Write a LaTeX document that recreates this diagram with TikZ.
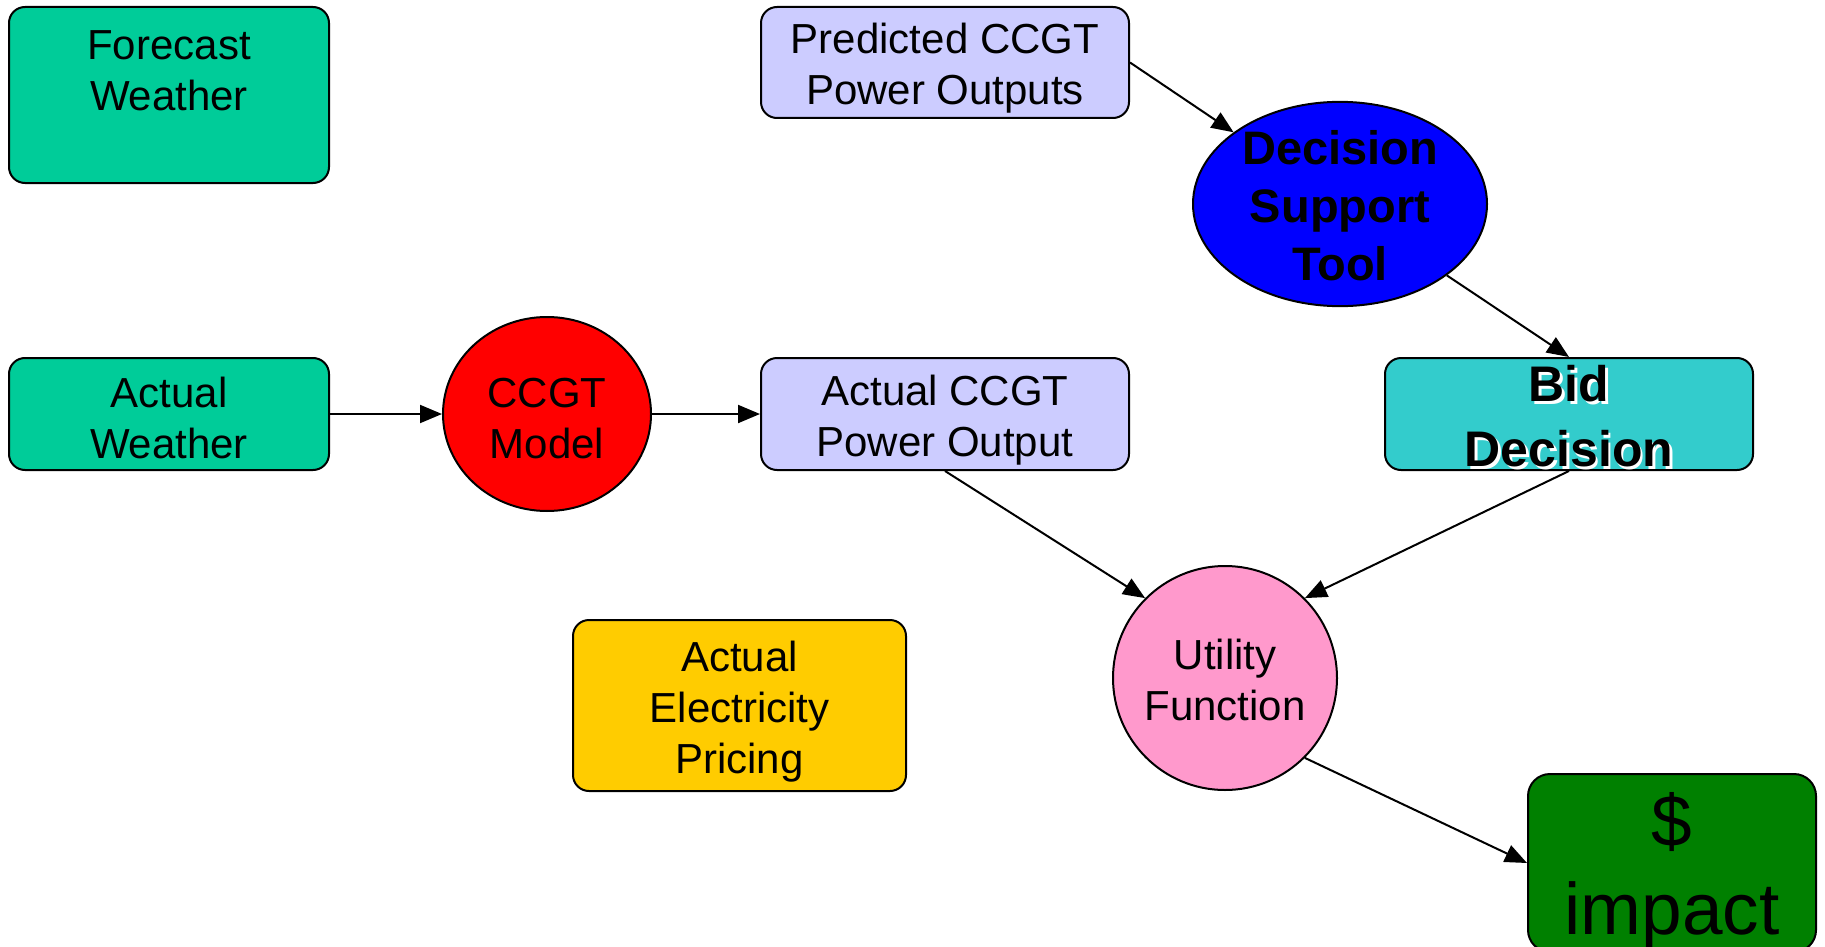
\documentclass[tikz,border=0pt]{standalone}
\usepackage{fontspec}
\setmainfont{Liberation Sans}
\usetikzlibrary{shapes.geometric,arrows.meta}

\definecolor{weathergreen}{RGB}{0,204,153}
\definecolor{outputlilac}{RGB}{204,204,255}
\definecolor{modelred}{RGB}{255,0,0}
\definecolor{toolblue}{RGB}{0,0,255}
\definecolor{bidcyan}{RGB}{51,204,204}
\definecolor{priceyellow}{RGB}{255,204,0}
\definecolor{utilpink}{RGB}{255,153,204}
\definecolor{impactgreen}{RGB}{0,128,0}

\newcommand*{\regfont}{\fontsize{42}{51}\selectfont}
\newcommand*{\topstrut}[1]{\rule{0pt}{#1pt}}

\tikzset{
  box/.style={draw, line width=2pt, rounded corners=16pt, align=center, inner sep=0pt, font=\regfont},
  blob/.style={draw, line width=2pt, ellipse, align=center, inner sep=0pt, font=\regfont},
  link/.style={line width=2pt, -{Triangle[length=22pt,width=18pt]}}
}

\begin{document}
\begin{tikzpicture}[x=1pt,y=-1pt]
  \useasboundingbox (0,0) rectangle (1825,947);
  \node[box, fill=weathergreen, minimum width=320pt, minimum height=176pt] (forecast) at (169,95) {};
  \node[anchor=north, align=center, inner sep=0pt, font=\regfont] (forecasttext) at (169,30) {Forecast\\Weather};
  \node[box, fill=weathergreen, minimum width=320pt, minimum height=112pt] (weather) at (169,414) {\topstrut{38}Actual\\Weather};
  \node[blob, fill=modelred, minimum width=208pt, minimum height=194pt] (ccgt) at (547,414) {\topstrut{38}CCGT\\Model};
  \node[box, fill=outputlilac, minimum width=368pt, minimum height=111pt] (predicted) at (945,62.5) {\topstrut{41}Predicted CCGT\\Power Outputs};
  \node[box, fill=outputlilac, minimum width=368pt, minimum height=112pt] (actual) at (945,414) {\topstrut{42}Actual CCGT\\Power Output};
  \node[blob, fill=toolblue, minimum width=294pt, minimum height=204pt, inner sep=-5pt,
        font=\fontsize{47}{58}\selectfont\bfseries] (tool) at (1340,204) {\topstrut{38}Decision\\Support\\Tool};
  \node[box, fill=bidcyan, minimum width=368pt, minimum height=112pt] (bid) at (1569,414) {};
  \node[align=center, inner sep=0pt, text=white, font=\fontsize{50}{65}\selectfont\bfseries] (bidshade) at (1571.5,416.5) {\topstrut{41}Bid\\Decision};
  \node[align=center, inner sep=0pt, font=\fontsize{50}{65}\selectfont\bfseries] (bidtext) at (1569,414) {\topstrut{41}Bid\\Decision};
  \node[box, fill=priceyellow, minimum width=333pt, minimum height=171pt] (pricing) at (739.5,705.5) {\topstrut{43}Actual\\Electricity\\Pricing};
  \node[draw, circle, line width=2pt, fill=utilpink, minimum size=224pt, align=center, inner sep=0pt, font=\regfont] (utility) at (1225,678) {\topstrut{35}Utility\\Function};
  \node[box, fill=impactgreen, rounded corners=22pt, minimum width=288pt, minimum height=178pt,
        font=\fontsize{73}{88}\selectfont] (impact) at (1672,863) {\topstrut{70}\$\\impact};

  \draw[link] (weather.east) -- (ccgt.west);
  \draw[link] (ccgt.east) -- (actual.west);
  \draw[link] (predicted.east) -- (tool);
  \draw[link] (tool) -- (bid.north);
  \draw[link] (actual.south) -- (utility.north west);
  \draw[link] (bid.south) -- (utility.north east);
  \draw[link] (utility.south east) -- (impact.west);
\end{tikzpicture}
\end{document}
